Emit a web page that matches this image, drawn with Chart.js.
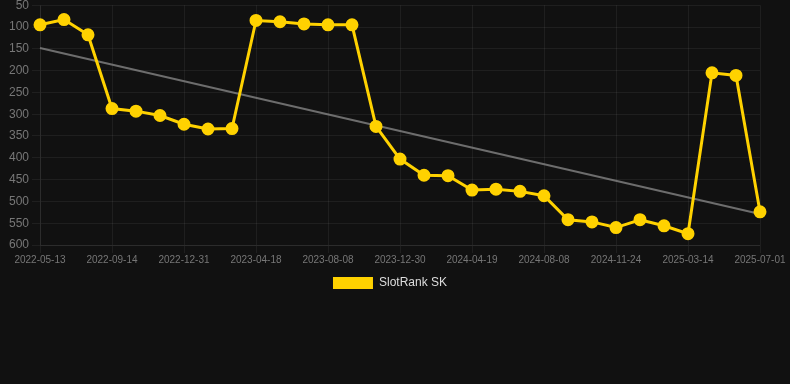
<!DOCTYPE html>
<html>
<head>
<meta charset="utf-8">
<script src="https://cdn.jsdelivr.net/npm/chart.js@4"></script>
<style>
  html, body { margin: 0; padding: 0; background: #111111; overflow: hidden; }
  #wrap { position: relative; width: 790px; height: 304px; margin-top: -5px; }
</style>
</head>
<body>
<div id="wrap"><canvas id="c"></canvas></div>
<script>
const categories = [
  '2022-05-13','2022-06-24','2022-08-04','2022-09-14','2022-10-20','2022-11-25',
  '2022-12-31','2023-02-06','2023-03-14','2023-04-18','2023-05-25','2023-07-01',
  '2023-08-08','2023-09-25','2023-11-12','2023-12-30','2024-02-05','2024-03-13',
  '2024-04-19','2024-05-26','2024-07-02','2024-08-08','2024-09-13','2024-10-19',
  '2024-11-24','2024-12-31','2025-02-06','2025-03-14','2025-04-19','2025-05-26',
  '2025-07-01'
];
const rankValues = [
  95, 83, 118, 287, 293, 303, 323, 334, 333, 85, 88, 93,
  95, 95, 328, 403, 440, 441, 474, 472, 477, 487, 542, 547,
  560, 542, 556, 574, 205, 211, 524
];
const trendStart = 148;
const trendEnd = 529;
const yTickMin = 50;
const yTickMax = 600;
const yTickStep = 50;
const seriesName = 'SlotRank SK';

const trendValues = categories.map((_, i) =>
  i === 0 ? trendStart : (i === categories.length - 1 ? trendEnd : null));

const FONT = "'Liberation Sans', Arial, Helvetica, sans-serif";

new Chart(document.getElementById('c'), {
  type: 'line',
  data: {
    labels: categories,
    datasets: [
      {
        label: seriesName,
        data: rankValues,
        borderColor: '#FFD200',
        backgroundColor: '#FFD200',
        borderWidth: 3,
        pointRadius: 5,
        pointHoverRadius: 5,
        pointBackgroundColor: '#FFD200',
        pointBorderColor: '#FFD200',
        tension: 0,
        order: 1
      },
      {
        label: 'trend',
        data: trendValues,
        borderColor: 'rgba(140,140,140,0.75)',
        borderWidth: 2,
        pointRadius: 0,
        spanGaps: true,
        fill: false,
        order: 2
      }
    ]
  },
  options: {
    responsive: true,
    maintainAspectRatio: false,
    animation: false,
    layout: { padding: { left: 0, right: 10, top: 0, bottom: 0 } },
    plugins: {
      tooltip: { enabled: false },
      legend: {
        position: 'bottom',
        labels: {
          color: '#dddddd',
          font: { family: FONT, size: 12 },
          boxWidth: 40,
          boxHeight: 12,
          filter: (item) => item.text === seriesName,
          generateLabels: (chart) => {
            const items = Chart.defaults.plugins.legend.labels.generateLabels(chart);
            items.forEach(it => { it.lineWidth = 0; it.strokeStyle = 'rgba(0,0,0,0)'; });
            return items;
          }
        }
      }
    },
    scales: {
      x: {
        grid: { color: 'rgba(255,255,255,0.06)', tickColor: 'rgba(255,255,255,0.06)' },
        border: { color: 'rgba(255,255,255,0.06)' },
        afterBuildTicks: (scale) => {
          scale.ticks = scale.ticks.filter((t, i) => i % 3 === 0);
        },
        afterFit: (scale) => { scale.paddingRight = 30; },
        ticks: {
          color: '#777777',
          font: { family: FONT, size: 10 },
          padding: 1,
          autoSkip: false,
          maxRotation: 0,
          minRotation: 0
        }
      },
      y: {
        reverse: true,
        min: yTickMin,
        max: yTickMax,
        afterFit: (scale) => { scale.width = 40; },
        grid: { color: 'rgba(255,255,255,0.06)', tickColor: 'rgba(255,255,255,0.06)' },
        border: { color: 'rgba(255,255,255,0.06)' },
        ticks: {
          stepSize: yTickStep,
          color: '#777777',
          font: { family: FONT, size: 12 }
        }
      }
    }
  }
});
</script>
</body>
</html>
